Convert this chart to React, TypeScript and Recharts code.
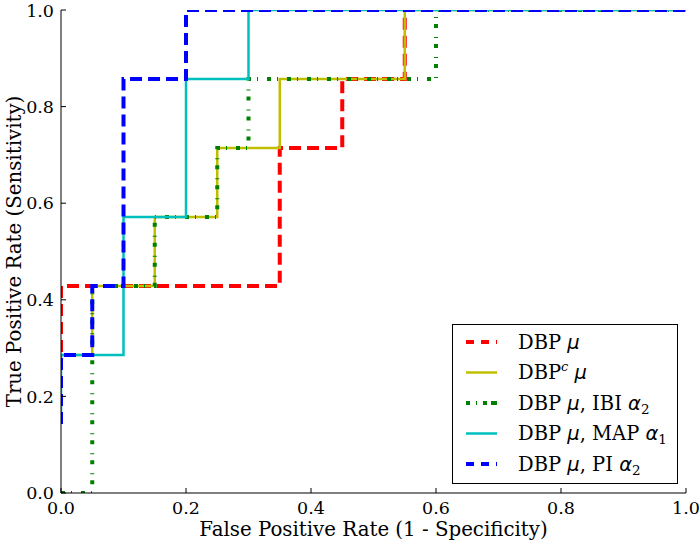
import React from 'react'
import { LineChart, Line, XAxis, YAxis, Label } from 'recharts'

// ROC curve corner points (false positive rate, true positive rate)
const fprDbp = [0, 0, 0.35, 0.35, 0.45, 0.45, 0.55, 0.55, 1]
const tprDbp = [0.1429, 0.4286, 0.4286, 0.7143, 0.7143, 0.8571, 0.8571, 1, 1]

const fprDbpC = [0, 0.05, 0.05, 0.15, 0.15, 0.25, 0.25, 0.35, 0.35, 0.55, 0.55, 1]
const tprDbpC = [0.2857, 0.2857, 0.4286, 0.4286, 0.5714, 0.5714, 0.7143, 0.7143, 0.8571, 0.8571, 1, 1]

const fprIbi = [0, 0.05, 0.05, 0.15, 0.15, 0.25, 0.25, 0.3, 0.3, 0.6, 0.6, 1]
const tprIbi = [0, 0, 0.4286, 0.4286, 0.5714, 0.5714, 0.7143, 0.7143, 0.8571, 0.8571, 1, 1]

const fprMap = [0, 0, 0.1, 0.1, 0.2, 0.2, 0.3, 0.3, 1]
const tprMap = [0.1429, 0.2857, 0.2857, 0.5714, 0.5714, 0.8571, 0.8571, 1, 1]

const fprPi = [0, 0, 0.05, 0.05, 0.1, 0.1, 0.2, 0.2, 1]
const tprPi = [0.1429, 0.2857, 0.2857, 0.4286, 0.4286, 0.8571, 0.8571, 1, 1]

const ticks = [0, 0.2, 0.4, 0.6, 0.8, 1]

const toPoints = (xs: number[], ys: number[]) => xs.map((x, i) => ({ x, y: ys[i] }))

const series = [
    { key: 'dbp', data: toPoints(fprDbp, tprDbp), color: '#ff0000', width: 4, dash: '12 6', icon: '8 7' },
    { key: 'dbpc', data: toPoints(fprDbpC, tprDbpC), color: '#bfbf00', width: 2.5, dash: undefined, icon: undefined },
    { key: 'ibi', data: toPoints(fprIbi, tprIbi), color: '#008000', width: 4, dash: '4 6 1 9', icon: '4 6 1 6 4' },
    { key: 'map', data: toPoints(fprMap, tprMap), color: '#00bfbf', width: 2.5, dash: undefined, icon: undefined },
    { key: 'pi', data: toPoints(fprPi, tprPi), color: '#0000ff', width: 4, dash: '12 6', icon: '8 7' },
]

const FONT = '"DejaVu Serif", serif'
const MATH = '"DejaVu Sans", sans-serif'

const mu = <tspan fontStyle="italic" fontFamily={MATH}>μ</tspan>
const alpha = (n: string) => (
    <>
        <tspan fontStyle="italic" fontFamily={MATH}>α</tspan>
        <tspan fontSize={13.5} dy={4}>{n}</tspan>
    </>
)

const legendLabels = [
    <>DBP {mu}</>,
    <>DBP<tspan fontSize={13} dy={-8} fontStyle="italic">c</tspan><tspan dy={8}> </tspan>{mu}</>,
    <>DBP {mu}, IBI {alpha('2')}</>,
    <>DBP {mu}, MAP {alpha('1')}</>,
    <>DBP {mu}, PI {alpha('2')}</>,
]

function LegendBox() {
    return (
        <svg width={226} height={160} style={{ display: 'block' }}>
            <rect x={0.5} y={0.5} width={225} height={159} fill="#fff" stroke="#000" strokeWidth={1} />
            {series.map((s, i) => {
                const cy = 18 + i * 30.5
                return (
                    <g key={s.key}>
                        <line x1={14} x2={45} y1={cy} y2={cy} stroke={s.color} strokeWidth={s.width}
                            strokeDasharray={s.icon} />
                        <text x={66} y={cy + 6.5} fontFamily={FONT} fontSize={19.5} fill="#000">{legendLabels[i]}</text>
                    </g>
                )
            })}
        </svg>
    )
}

const emptyTick = () => <g />

const XTitle = (props: any) => {
    const { x, y, width } = props.viewBox
    return (
        <text x={x + width / 2} y={y + 43} textAnchor="middle" fontFamily={FONT} fontSize={19.8} fill="#000">
            False Positive Rate (1 - Specificity)
        </text>
    )
}

const YTitle = (props: any) => {
    const { y, height } = props.viewBox
    const cx = 21
    const cy = y + height / 2
    return (
        <text x={cx} y={cy} transform={`rotate(-90 ${cx} ${cy})`} textAnchor="middle"
            fontFamily={FONT} fontSize={19.8} fill="#000">
            True Positive Rate (Sensitivity)
        </text>
    )
}

export default function App() {
    return (
        <div style={{ width: 700, height: 545, background: '#fff', position: 'relative' }}>
            <style>{'body { margin: 0; }'}</style>
            <LineChart width={700} height={545} margin={{ top: 10, right: 14, left: 0, bottom: 0 }}>
                <XAxis
                    xAxisId={0}
                    dataKey="x"
                    type="number"
                    domain={[0, 1]}
                    ticks={ticks}
                    tickFormatter={(v: number) => v.toFixed(1)}
                    height={52}
                    stroke="#000"
                    tickSize={-5}
                    tickMargin={14}
                    tick={{ fill: '#000', fontSize: 17.5, fontFamily: FONT }}
                    allowDataOverflow
                >
                    <Label content={XTitle} />
                </XAxis>
                <XAxis xAxisId="top" orientation="top" type="number" domain={[0, 1]} ticks={ticks}
                    height={0} stroke="#000" tickSize={-5} tick={emptyTick} />
                <YAxis
                    yAxisId={0}
                    type="number"
                    domain={[0, 1]}
                    ticks={ticks}
                    tickFormatter={(v: number) => v.toFixed(1)}
                    width={61}
                    stroke="#000"
                    tickSize={-5}
                    tickMargin={12}
                    tick={{ fill: '#000', fontSize: 17.5, fontFamily: FONT }}
                    allowDataOverflow
                >
                    <Label content={YTitle} />
                </YAxis>
                <YAxis yAxisId="right" orientation="right" type="number" domain={[0, 1]} ticks={ticks}
                    width={0} stroke="#000" tickSize={-5} tick={emptyTick} />
                {series.map(s => (
                    <Line
                        key={s.key}
                        data={s.data}
                        dataKey="y"
                        type="linear"
                        stroke={s.color}
                        strokeWidth={s.width}
                        strokeDasharray={s.dash}
                        dot={false}
                        activeDot={false}
                        isAnimationActive={false}
                    />
                ))}
            </LineChart>
            <div style={{ position: 'absolute', left: 452, top: 324 }}>
                <LegendBox />
            </div>
        </div>
    )
}
